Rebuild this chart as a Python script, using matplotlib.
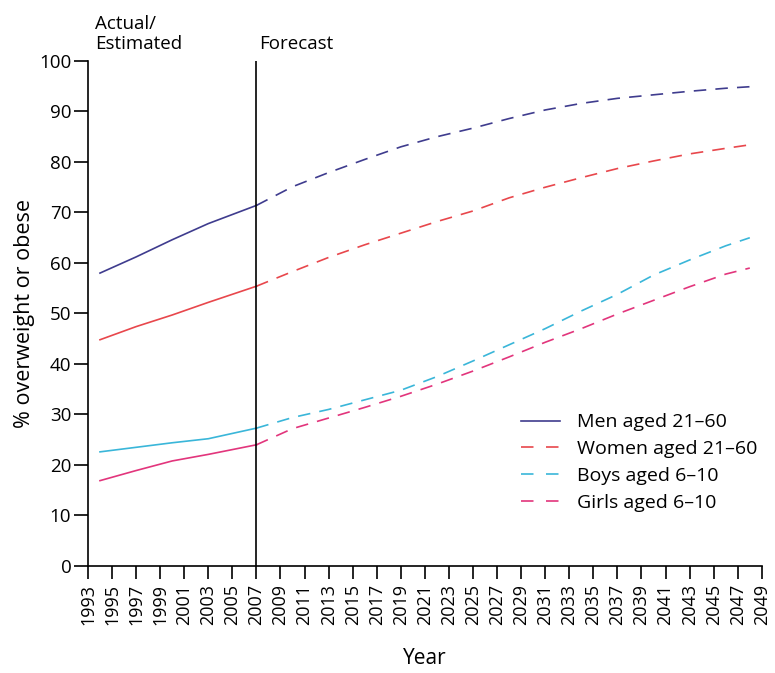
import matplotlib
matplotlib.use("Agg")
import matplotlib.pyplot as plt

plt.rcParams['font.family'] = ['Open Sans', 'DejaVu Sans']

# actual / estimated part (solid)
years_actual = [1994, 1997, 2000, 2003, 2007]
men_actual = [58.0, 61.2, 64.6, 67.8, 71.4]
women_actual = [44.8, 47.4, 49.7, 52.2, 55.4]
boys_actual = [22.6, 23.5, 24.4, 25.2, 27.3]
girls_actual = [16.9, 18.9, 20.8, 22.1, 24.0]

# forecast part (dashed)
years_fc = [2007, 2010, 2013, 2016, 2019, 2022, 2025, 2028, 2031, 2034,
            2037, 2040, 2043, 2046, 2048]
men_fc = [71.4, 75.1, 77.9, 80.5, 83.0, 85.0, 86.7, 88.6, 90.3, 91.6,
          92.6, 93.3, 94.0, 94.6, 94.9]
women_fc = [55.4, 58.3, 61.1, 63.6, 65.9, 68.2, 70.3, 72.9, 75.0, 76.9,
            78.7, 80.2, 81.6, 82.7, 83.4]
boys_fc = [27.3, 29.4, 31.0, 32.9, 34.8, 37.5, 40.6, 43.8, 47.0, 50.5,
           53.8, 57.6, 60.6, 63.4, 65.0]
girls_fc = [24.0, 27.2, 29.3, 31.4, 33.6, 36.0, 38.6, 41.4, 44.3, 47.0,
            49.9, 52.6, 55.3, 57.8, 59.0]

labels = ["Men aged 21\u201360", "Women aged 21\u201360",
          "Boys aged 6\u201310", "Girls aged 6\u201310"]
colors = ["#3f3c8e", "#e8474c", "#3ab6d9", "#e2357c"]

fig = plt.figure(figsize=(7.75, 6.73), dpi=100)
ax = fig.add_axes([0.1135, 0.159, 0.8695, 0.7504])

actual = [men_actual, women_actual, boys_actual, girls_actual]
forecast = [men_fc, women_fc, boys_fc, girls_fc]
for i in range(4):
    ax.plot(years_actual, actual[i], color=colors[i], lw=1.2)
    ax.plot(years_fc, forecast[i], color=colors[i], lw=1.2,
            dashes=(7.5, 5.5))

# legend: men shown as solid, others dashed
leg_lines = []
for i in range(4):
    if i == 0:
        leg_lines.append(plt.Line2D([], [], color=colors[i], lw=1.2))
    else:
        leg_lines.append(plt.Line2D([], [], color=colors[i], lw=1.2,
                                    dashes=(7.5, 7.5)))
ax.legend(leg_lines, labels, loc="upper left", bbox_to_anchor=(0.643, 0.302),
          frameon=False, fontsize=14, handlelength=2.0, handletextpad=0.85,
          labelspacing=0.45, borderpad=0, borderaxespad=0)

ax.axvline(2007, color="black", lw=1.2)

ax.set_xlim(1993, 2049)
ax.set_ylim(0, 100)
ax.set_xticks(range(1993, 2050, 2))
ax.set_xticklabels([str(y) for y in range(1993, 2050, 2)], rotation=90,
                   fontsize=13)
ax.set_yticks(range(0, 101, 10))
ax.tick_params(axis="y", labelsize=13.5, length=10, width=1.2, pad=2)
ax.tick_params(axis="x", length=9, width=1.2, pad=4)
for s in ["top", "right"]:
    ax.spines[s].set_visible(False)
for s in ["left", "bottom"]:
    ax.spines[s].set_linewidth(1.2)

ax.set_xlabel("Year", fontsize=15, labelpad=16)
ax.set_ylabel("% overweight or obese", fontsize=15.5, labelpad=3)

ax.text(1993.6, 101.5, "Actual/\nEstimated", fontsize=13.5, ha="left",
        va="bottom", linespacing=1.2)
ax.text(2007.2, 101.5, "Forecast", fontsize=13.5, ha="left", va="bottom")

fig.savefig("out.png", dpi=100)
